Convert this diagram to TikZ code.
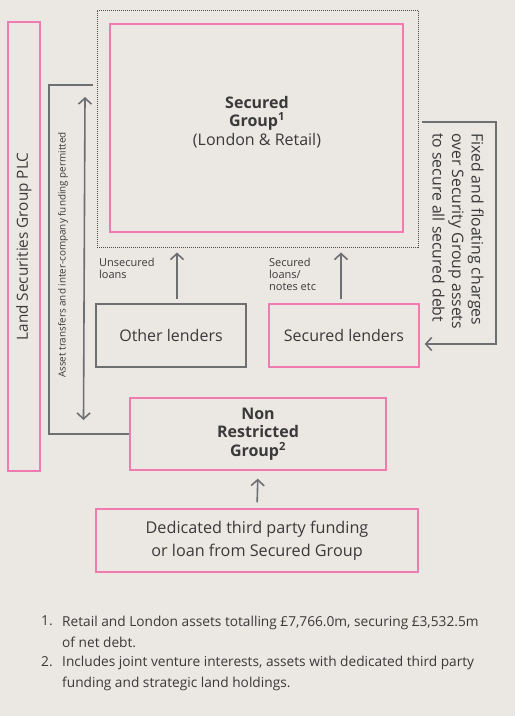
\documentclass[tikz,border=0pt]{standalone}
\usepackage{fontspec}
\setmainfont{Open Sans}
\usetikzlibrary{positioning,calc,arrows.meta}
\definecolor{bgcol}{HTML}{EBE7E3}
\definecolor{pinkline}{HTML}{F07BB0}
\definecolor{greyline}{HTML}{6E6F71}
\definecolor{txtcol}{HTML}{3A3A3A}

\begin{document}
\begin{tikzpicture}[x=1pt,y=-1pt,
    every node/.style={text=txtcol},
    pinkbox/.style={draw=pinkline, line width=1.3pt, inner sep=0pt},
    greybox/.style={draw=greyline, line width=1.3pt, inner sep=0pt},
    boxfont/.style={font=\fontsize{16}{18.5}\selectfont},
    smalltext/.style={font=\fontsize{11}{12}\selectfont, inner sep=0pt, align=left},
    notetext/.style={font=\fontsize{13.7}{20.5}\selectfont, inner sep=0pt, align=left},
    wire/.style={draw=greyline, line width=1.6pt},
    link/.style={wire, -{Straight Barb[length=6pt,width=13pt]}},
    twolink/.style={wire, {Straight Barb[length=6pt,width=13pt]}-{Straight Barb[length=6pt,width=13pt]}}]

    \useasboundingbox[fill=bgcol] (0,0) rectangle (515,716);

    % the boxes
    \node[pinkbox, rotate=90, minimum width=449, minimum height=32,
        font=\fontsize{15.3}{18}\selectfont] (plc) at (24,246.5) {Land Securities Group PLC};
    \node[draw=black!70, line width=1pt, dash pattern=on 1pt off 1pt,
        minimum width=321, minimum height=237] (ring) at (257.5,128.5) {};
    \node[pinkbox, minimum width=293, minimum height=208] (secgrp) at (256.5,128) {};
    \node[boxfont, align=center] (sectext) at (257,122)
        {\textbf{Secured}\\\textbf{Group}\textsuperscript{\textbf{1}}\\(London \& Retail)};
    \node[greybox, boxfont, minimum width=150, minimum height=63] (other) at (171,335.5) {Other lenders};
    \node[pinkbox, boxfont, minimum width=150, minimum height=63] (seclend) at (344,335.5) {Secured lenders};
    \node[pinkbox, boxfont, minimum width=256, minimum height=72, align=center]
        (nonres) at (258,434) {\textbf{Non}\\\textbf{Restricted}\\\textbf{Group}\textsuperscript{\textbf{2}}};
    \node[pinkbox, font=\fontsize{16.2}{23}\selectfont, minimum width=322, minimum height=63, align=center]
        (dedic) at (257,540.5) {Dedicated third party funding\\or loan from Secured Group};

    % loans into the secured group
    \draw[link, shorten <=4pt, shorten >=5pt] ([xshift=6pt]other.north) -- ([xshift=6pt]other.north |- ring.south);
    \draw[link, shorten <=4pt, shorten >=5pt] ([xshift=-3pt]seclend.north) -- ([xshift=-3pt]seclend.north |- ring.south);
    \node[smalltext, anchor=north west] (unsec) at (99,258) {Unsecured\\loans};
    \node[smalltext, anchor=north west] (secnotes) at (269,258) {Secured\\loans/\\notes etc};
    \draw[link, shorten <=6pt, shorten >=8pt] (dedic.north) -- (nonres.south);

    % transfers between the groups
    \coordinate (lbtop) at (93,85);
    \coordinate (lbbot) at (49,434);
    \draw[wire, line width=1.3pt] (lbtop) -| (lbbot) -- (nonres.west);
    \coordinate (astop) at (85,97);
    \coordinate (asbot) at (83.5,420);
    \draw[twolink] (astop) -- (asbot);
    \node[smalltext, font=\fontsize{9.9}{11}\selectfont, rotate=90] (asset) at (63,255)
        {Asset transfers and inter-company funding permitted};

    % charges over the assets
    \coordinate (rbtop) at (422,122);
    \coordinate (rbbot) at (496,344);
    \draw[link, shorten >=5pt] (rbtop) -| (rbbot) -- (seclend.east |- rbbot);
    \node[rotate=-90, anchor=west, align=left, inner sep=0pt,
        font=\fontsize{15.8}{19.5}\selectfont] (charges) at (458,133)
        {Fixed and floating charges\\over Security Group assets\\to secure all secured debt};

    % notes
    \node[notetext, anchor=north west] (n1) at (41,616) {1.};
    \node[notetext, anchor=north west] (t1) at (62,616) {Retail and London assets totalling £7,766.0m, securing £3,532.5m\\of net debt.};
    \node[notetext, anchor=north west] (n2) at (41,656) {2.};
    \node[notetext, anchor=north west] (t2) at (62,656) {Includes joint venture interests, assets with dedicated third party\\funding and strategic land holdings.};
\end{tikzpicture}
\end{document}
